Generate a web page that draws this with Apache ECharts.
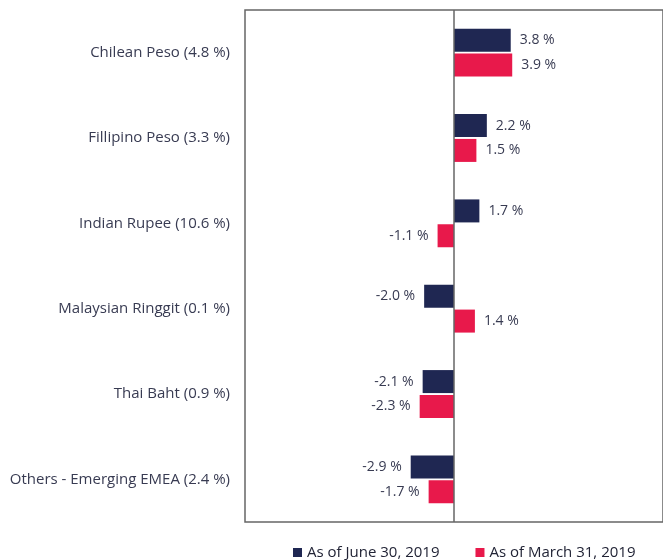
<!DOCTYPE html>
<html>
<head>
<meta charset="utf-8">
<style>
  html, body { margin: 0; padding: 0; background: #fff; }
  #fx_chart { width: 663px; height: 560px; }
</style>
<script src="https://cdn.jsdelivr.net/npm/echarts@6/dist/echarts.min.js"></script>
</head>
<body>
<div id="fx_chart"></div>
<script>
// Data
var currencies = [
    'Chilean Peso (4.8 %)',
    'Fillipino Peso (3.3 %)',
    'Indian Rupee (10.6 %)',
    'Malaysian Ringgit (0.1 %)',
    'Thai Baht (0.9 %)',
    'Others - Emerging EMEA (2.4 %)'
];
var juneValues = [3.8, 2.2, 1.7, -2.0, -2.1, -2.9];
var marchValues = [3.9, 1.5, -1.1, 1.4, -2.3, -1.7];
var seriesNames = ['As of June 30, 2019', 'As of March 31, 2019'];

// Colors
var navyColor = '#1f2752',
    redColor = '#e8194b',
    textColor = '#383b52',
    borderColor = '#666666';

var fontFamily = '"Open Sans", Lato, sans-serif';

// Bar data with label on the outer end of each bar
var buildData = function(values) {
    return values.map(function(v) {
        return {
            value: v,
            label: { position: v < 0 ? 'left' : 'right' }
        };
    });
};

var chartElement = document.getElementById('fx_chart');
var chart = echarts.init(chartElement, null, { renderer: 'canvas' });

chart.setOption({
    animation: false,
    backgroundColor: '#fff',
    textStyle: { fontFamily: fontFamily, color: textColor },
    legend: {
        data: seriesNames,
        left: 288,
        top: 540,
        icon: 'rect',
        itemWidth: 9,
        itemHeight: 9,
        itemGap: 36,
        textStyle: { fontFamily: fontFamily, fontSize: 15, color: '#222436' }
    },
    grid: {
        show: true,
        left: 245,
        top: 10,
        width: 420,
        bottom: 38,
        borderColor: borderColor,
        borderWidth: 1.5
    },
    xAxis: {
        type: 'value',
        min: -14,
        max: 14,
        show: false
    },
    yAxis: {
        type: 'category',
        data: currencies,
        inverse: true,
        axisLine: { show: false },
        axisTick: { show: false },
        axisLabel: {
            margin: 15,
            fontFamily: fontFamily,
            fontSize: 15,
            color: textColor
        }
    },
    series: [
        {
            name: seriesNames[0],
            type: 'bar',
            data: buildData(juneValues),
            barWidth: 23,
            barGap: '8%',
            itemStyle: { color: navyColor },
            label: {
                show: true,
                distance: 9,
                fontFamily: fontFamily,
                fontSize: 14,
                color: textColor,
                formatter: function(p) { return p.value.toFixed(1) + ' %'; }
            },
            markLine: {
                silent: true,
                symbol: 'none',
                label: { show: false },
                lineStyle: { color: borderColor, width: 1.5, type: 'solid' },
                data: [{ xAxis: 0 }]
            }
        },
        {
            name: seriesNames[1],
            type: 'bar',
            data: buildData(marchValues),
            barWidth: 23,
            itemStyle: { color: redColor },
            label: {
                show: true,
                distance: 9,
                fontFamily: fontFamily,
                fontSize: 14,
                color: textColor,
                formatter: function(p) { return p.value.toFixed(1) + ' %'; }
            }
        }
    ]
});
</script>
</body>
</html>
